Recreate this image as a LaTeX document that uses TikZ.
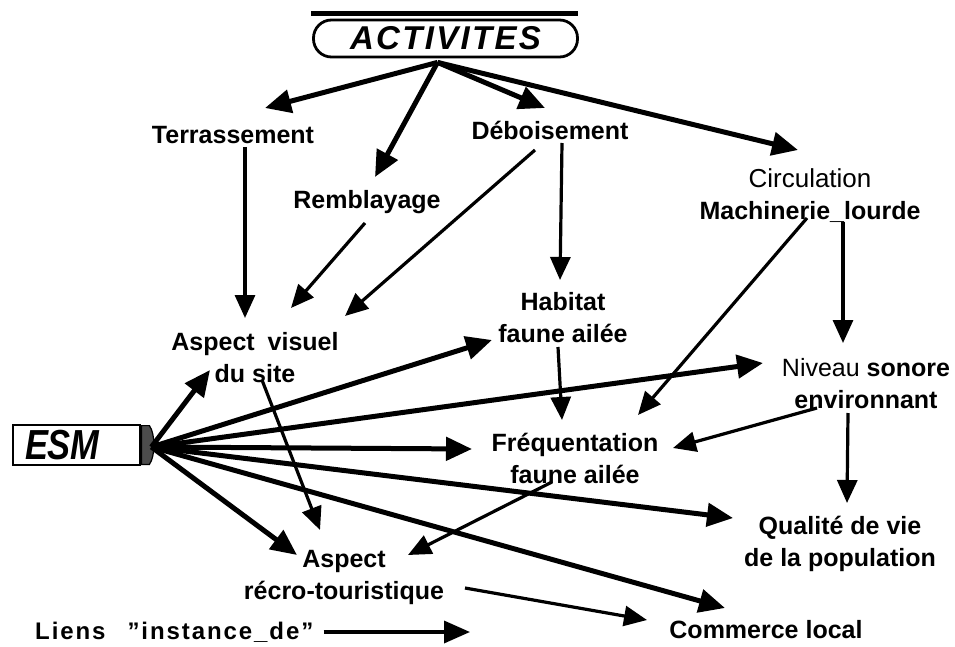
\documentclass[tikz,border=0pt]{standalone}
\usepackage{fontspec}
\setmainfont{Liberation Sans}
\usetikzlibrary{arrows.meta,patterns}

\begin{document}
\begin{tikzpicture}[x=1pt,y=-1pt,
  lbl/.style={font=\fontsize{25}{32}\selectfont\bfseries, align=center, inner sep=0pt},
  inst/.style={line width=5pt, -{Triangle[length=26pt,width=23pt]}},
  infl/.style={line width=3.2pt, -{Triangle[length=23pt,width=20pt]}},
]
\useasboundingbox (0,0) rectangle (955,647);

% --- heads of the two trees ---
\node[draw, line width=2.8pt, rounded corners=18pt, minimum width=264pt,
      minimum height=37pt, inner sep=0pt,
      font=\fontsize{33}{33}\selectfont\bfseries\itshape\addfontfeature{LetterSpace=7}]
      (act) at (445.5,38.5) {ACTIVITES};
\draw[line width=5.5pt] ([shift={(-1,-5)}]act.north west) -- ([shift={(-1,-5)}]act.north east);
\coordinate (acthub) at ([shift={(-8,4)}]act.south);

\node[draw, line width=2.8pt, minimum width=127pt, minimum height=40pt,
      text width=103pt, align=left, inner xsep=12pt, inner ysep=0pt,
      font=\fontsize{42}{42}\selectfont\bfseries\itshape]
      (esm) at (76.5,445) {\scalebox{0.82}[1]{ESM}};
\path[fill=black!70, draw=black, line width=1.2pt]
  ([shift={(0,2)}]esm.north east) -- ++(8,0)
  .. controls +(6,8) and +(6,-8) .. ([shift={(8,-2)}]esm.south east)
  -- ([shift={(0,-2)}]esm.south east) -- cycle;
\coordinate (esmhub) at ([shift={(10,2)}]esm.east);

% --- labels ---
\node[lbl] (terr)   at (233,135) {Terrassement};
\node[lbl] (rembl)  at (367,202) {Remblayage};
\node[lbl] (debois) at (550,130) {Déboisement};
\node[lbl] (circ)   at (810,196) {{\mdseries\fontsize{26}{32}\selectfont Circulation}\\Machinerie\_lourde};
\node[lbl] (av)     at (255,358) {Aspect\hspace{6pt} visuel\\du site};
\node[lbl] (hab)    at (563,318) {Habitat\\faune ailée};
\node[lbl] (niv)    at (866,384) {{\mdseries Niveau} sonore\\environnant};
\node[lbl] (freq)   at (575,458) {Fréquentation\\faune ailée};
\node[lbl] (qual)   at (840,544) {Qualité de vie\\de la population};
\node[lbl] (ar)     at (344,577) {Aspect\\récro-touristique};
\node[lbl] (comm)   at (766,630) {Commerce local};

% --- instance_de links from ACTIVITES ---
\draw[inst] (acthub) -- ([shift={(32,-27)}]terr.center);
\draw[inst] (acthub) -- ([shift={(8,-25)}]rembl.center);
\draw[inst] (acthub) -- ([shift={(-5,-22)}]debois.center);
\draw[inst] (acthub) -- ([shift={(-12,-46)}]circ.center);

% --- instance_de links from ESM ---
\draw[inst] (esmhub) -- ([shift={(-45,12)}]av.center);
\draw[inst] (esmhub) -- ([shift={(-71,22)}]hab.center);
\draw[inst] (esmhub) -- ([shift={(-103,-21)}]niv.center);
\draw[inst] (esmhub) -- ([shift={(-103,-9)}]freq.center);
\draw[inst] (esmhub) -- ([shift={(-107,-26)}]qual.center);
\draw[inst] (esmhub) -- ([shift={(-47,-22)}]ar.center);
\draw[inst] (esmhub) -- ([shift={(-41,-22)}]comm.center);

% --- influence links ---
\draw[infl] ([shift={(12,12)}]terr.center)   -- ([shift={(-10,-40)}]av.center);
\draw[infl] ([shift={(-2,21)}]rembl.center)  -- ([shift={(36,-50)}]av.center);
\draw[infl] ([shift={(-15,20)}]debois.center) -- ([shift={(90,-42)}]av.center);
\draw[infl] ([shift={(12,13)}]debois.center) -- ([shift={(-3,-38)}]hab.center);
\draw[infl] ([shift={(-5,29)}]hab.center)    -- ([shift={(-13,-38)}]freq.center);
\draw[infl] ([shift={(-3,22)}]circ.center)   -- ([shift={(63,-43)}]freq.center);
\draw[infl] ([shift={(33,26)}]circ.center)   -- ([shift={(-23,-41)}]niv.center);
\draw[infl] ([shift={(-49,24)}]niv.center)   -- ([shift={(98,-10)}]freq.center);
\draw[infl] ([shift={(-18,29)}]niv.center)   -- ([shift={(7,-41)}]qual.center);
\draw[infl] ([shift={(-23,24)}]freq.center)  -- ([shift={(64,-22)}]ar.center);
\draw[infl] ([shift={(7,22)}]av.center)      -- ([shift={(-24,-47)}]ar.center);
\draw[infl] ([shift={(121,11)}]ar.center)    -- ([shift={(-119,-10)}]comm.center);

% --- legend ---
\node[font=\fontsize{24}{24}\selectfont\bfseries\addfontfeature{LetterSpace=8},
      anchor=west, inner sep=0pt] (leg) at (35,632) {Liens\hspace{22pt}\symbol{34}instance\_de\symbol{34}};
\coordinate (legtip) at (470,632);
\draw[line width=3.5pt, -{Triangle[length=26pt,width=22pt]}] ([xshift=10pt]leg.east) -- (legtip);
\end{tikzpicture}
\end{document}
